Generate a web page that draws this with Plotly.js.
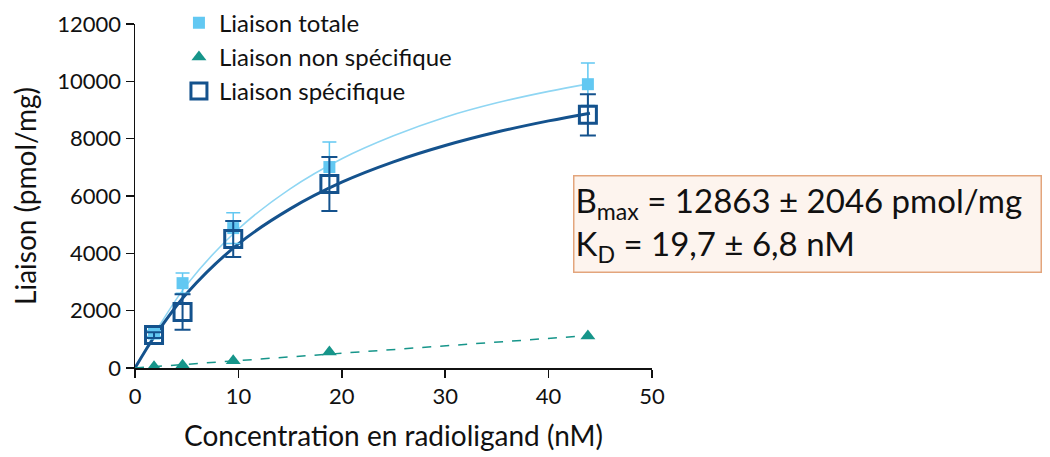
<!DOCTYPE html>
<html>
<head>
<meta charset="utf-8">
<script src="https://cdn.plot.ly/plotly-3.0.1.min.js"></script>
<style>
  html, body { margin: 0; padding: 0; background: #ffffff; }
  #chart { width: 1050px; height: 457px; }
</style>
</head>
<body>
<div id="chart"></div>
<script>
// Radioligand concentrations (nM)
const concentration = [1.84, 4.6, 9.5, 18.8, 43.8];

// Measured binding (pmol/mg) with symmetric error
const totalBinding = [1200, 2960, 4880, 7010, 9900];
const totalError = [100, 350, 540, 870, 740];
const nonSpecificBinding = [40, 100, 250, 560, 1120];
const specificBinding = [1150, 1950, 4500, 6420, 8830];
const specificError = [100, 620, 630, 940, 720];

// Saturation curves
const curveX = [0, 2, 5, 10, 15, 20, 25, 30, 35, 40, 44];
const totalCurve = [0, 1260, 2900, 4850, 6250, 7300, 8100, 8750, 9250, 9650, 9920];
const specificCurve = [0, 1160, 2600, 4330, 5550, 6480, 7190, 7760, 8230, 8620, 8890];
const nonSpecificLineX = [0, 43.8];
const nonSpecificLine = [0, 1130];

const xTicks = [0, 10, 20, 30, 40, 50];
const yTicks = [0, 2000, 4000, 6000, 8000, 10000, 12000];

const lightBlue = '#62c8f2';
const darkBlue = '#14528d';
const teal = '#16958a';

const traces = [
  {
    x: curveX, y: totalCurve, mode: 'lines', line: { color: '#8fd6f3', width: 1.6, shape: 'spline' },
    showlegend: false, hoverinfo: 'skip', cliponaxis: false
  },
  {
    x: curveX, y: specificCurve, mode: 'lines', line: { color: darkBlue, width: 3, shape: 'spline' },
    showlegend: false, hoverinfo: 'skip', cliponaxis: false
  },
  {
    x: nonSpecificLineX, y: nonSpecificLine, mode: 'lines', line: { color: teal, width: 1.5, dash: 'dash' },
    showlegend: false, hoverinfo: 'skip', cliponaxis: false
  },
  {
    name: 'Liaison totale', x: concentration, y: totalBinding, mode: 'markers',
    marker: { symbol: 'square', size: 12, color: lightBlue },
    error_y: { type: 'data', array: totalError, visible: true, color: lightBlue, thickness: 1.5, width: 7 },
    cliponaxis: false
  },
  {
    name: 'Liaison non spécifique', x: concentration, y: nonSpecificBinding, mode: 'markers',
    marker: { symbol: 'triangle-up', size: 13, color: teal },
    cliponaxis: false
  },
  {
    name: 'Liaison spécifique', x: concentration, y: specificBinding, mode: 'markers',
    marker: { symbol: 'square-open', size: 17, color: darkBlue, line: { width: 3, color: darkBlue } },
    error_y: { type: 'data', array: specificError, visible: true, color: darkBlue, thickness: 2, width: 8 },
    cliponaxis: false
  }
];

const font = 'Lato, "Open Sans", sans-serif';

const layout = {
  width: 1050, height: 457,
  margin: { l: 135, r: 398, t: 24, b: 89, autoexpand: false },
  paper_bgcolor: '#ffffff', plot_bgcolor: '#ffffff',
  font: { family: font, color: '#111111', size: 19 },
  showlegend: true,
  legend: {
    x: 0.085, y: 1.068, xanchor: 'left', yanchor: 'top',
    font: { family: font, size: 24, color: '#111111' },
    bgcolor: 'rgba(0,0,0,0)', itemwidth: 30, tracegroupgap: 0
  },
  xaxis: {
    range: [0, 50], tickvals: xTicks, ticktext: xTicks.map(String),
    showgrid: false, zeroline: false, showline: true, linecolor: '#111111', linewidth: 1.5,
    ticks: 'outside', ticklen: 8, tickwidth: 1.5, tickcolor: '#111111',
    tickfont: { family: font, size: 22 },
    title: { text: 'Concentration en radioligand (nM)', font: { family: font, size: 28 }, standoff: 18 }
  },
  yaxis: {
    range: [0, 12000], tickvals: yTicks, ticktext: yTicks.map(String),
    showgrid: false, zeroline: false, showline: true, linecolor: '#111111', linewidth: 1.5,
    ticks: 'outside', ticklen: 8, tickwidth: 1.5, tickcolor: '#111111',
    tickfont: { family: font, size: 22 },
    title: { text: 'Liaison (pmol/mg)', font: { family: font, size: 28 }, standoff: 12 }
  },
  annotations: [
    {
      xref: 'paper', yref: 'paper', x: 1.3, y: 0.42, xanchor: 'center', yanchor: 'middle',
      text: 'B<sub>max</sub> = 12863 ± 2046 pmol/mg<br>K<sub>D</sub> = 19,7 ± 6,8 nM',
      showarrow: false, align: 'left',
      font: { family: font, size: 33, color: '#111111' },
      bgcolor: '#fdf4ee', bordercolor: '#e3a57c', borderwidth: 1.5,
      width: 464, height: 93, borderpad: 1
    }
  ]
};

Plotly.newPlot('chart', traces, layout, { displayModeBar: false, staticPlot: true });
</script>
</body>
</html>
